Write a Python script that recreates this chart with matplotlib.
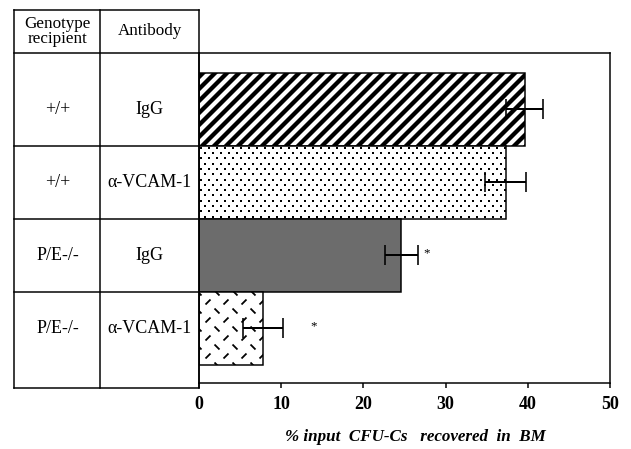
import matplotlib
matplotlib.use("Agg")
import matplotlib.pyplot as plt
import numpy as np
from matplotlib.collections import LineCollection

plt.rcParams['font.family'] = ['Liberation Serif', 'DejaVu Serif']

genotype = ['+/+', '+/+', 'P/E-/-', 'P/E-/-']
antibody = ['IgG', '\u03b1-VCAM-1', 'IgG', '\u03b1-VCAM-1']
values = [39.6, 37.3, 24.6, 7.8]
errors = [2.2, 2.5, 2.0, 2.4]
star_x = [None, None, 27.7, 14.0]
xticks = [0, 10, 20, 30, 40, 50]

W, H = 411, 330  # axes size in px
fig = plt.figure(figsize=(631 / 72, 449 / 72), dpi=72)
ax = fig.add_axes([199 / 631, 66 / 449, W / 631, H / 449])

y = np.arange(len(values))
bars = ax.barh(y, values, height=1.0, color=['white', 'white', '#6c6c6c', 'white'],
               edgecolor='black', linewidth=1.5, zorder=2)

# textures (axes-pixel grids clipped to each bar)
# bar 1: thick diagonal stripes
segs = [[((x0) / W, 0), ((x0 + H) / W, 1)] for x0 in np.arange(-H, W, 12)]
lc1 = LineCollection(segs, colors='black', linewidths=4.3,
                     transform=ax.transAxes, zorder=2.5)
ax.add_collection(lc1)
lc1.set_clip_path(bars.patches[0])

# bar 2: staggered dots
px, py = [], []
for i, yy in enumerate(np.arange(2, H, 5.3)):
    for xx in np.arange(2 + (i % 2) * 4, W, 8):
        px.append(xx / W)
        py.append(yy / H)
dots = ax.scatter(px, py, s=3.5, marker='s', color='black', linewidths=0,
                  transform=ax.transAxes, zorder=2.5)
dots.set_clip_path(bars.patches[1])

# bar 4: short dashes alternating direction
segs = []
for i, yy in enumerate(np.arange(0, H, 9)):
    d = 2.5
    s = 1 if i % 2 == 0 else -1
    for xx in np.arange((i % 2) * 9, W, 18):
        segs.append([((xx - d) / W, (yy + s * d) / H), ((xx + d) / W, (yy - s * d) / H)])
lc4 = LineCollection(segs, colors='black', linewidths=1.8,
                     transform=ax.transAxes, zorder=2.5)
ax.add_collection(lc4)
lc4.set_clip_path(bars.patches[3])

ax.errorbar(values, y, xerr=errors, fmt='none', ecolor='black',
            elinewidth=2, capsize=10, capthick=1.6, zorder=3)

for yy, sx in zip(y, star_x):
    if sx is not None:
        ax.text(sx, yy - 0.02, '*', ha='center', va='center', fontsize=13)

ax.set_xlim(0, 50)
ax.set_ylim(3.75, -0.77)
ax.set_xticks(xticks)
ax.set_yticks([])
ax.tick_params(axis='x', direction='out', length=5, width=1.5, pad=8)
for lab in ax.get_xticklabels():
    lab.set_fontsize(18)
    lab.set_fontweight('bold')
for s in ax.spines.values():
    s.set_linewidth(1.5)

ax.set_xlabel('% input  CFU-Cs   recovered  in  BM', fontsize=17,
              fontweight='bold', fontstyle='italic')
ax.xaxis.set_label_coords(0.526, -0.164)
ax.xaxis.label.set_va('center')

# table on the left
x_l, x_m, x_r = -22.45, -12.0, 0
y_top, y_hdr, y_bot = -1.36, -0.77, 3.82
kw = dict(color='black', lw=1.5, clip_on=False, zorder=4)
for xx in (x_l, x_m, x_r):
    ax.plot([xx, xx], [y_top, y_bot], **kw)
ax.plot([x_l, x_r], [y_top, y_top], **kw)
ax.plot([x_l, x_r], [y_hdr, y_hdr], **kw)
ax.plot([x_l, x_r], [y_bot, y_bot], **kw)
for yy in y[:-1] + 0.5:
    ax.plot([x_l, x_r], [yy, yy], **kw)

ax.text((x_l + x_m) / 2, (y_top + y_hdr) / 2, 'Genotype\nrecipient',
        ha='center', va='center', fontsize=17, linespacing=0.85)
ax.text((x_m + x_r) / 2, (y_top + y_hdr) / 2, 'Antibody',
        ha='center', va='center', fontsize=17)
for yy, g, a in zip(y, genotype, antibody):
    ax.text((x_l + x_m) / 2, yy, g, ha='center', va='center', fontsize=18)
    ax.text((x_m + x_r) / 2, yy, a, ha='center', va='center', fontsize=18)

fig.savefig('out.png', dpi=72)
